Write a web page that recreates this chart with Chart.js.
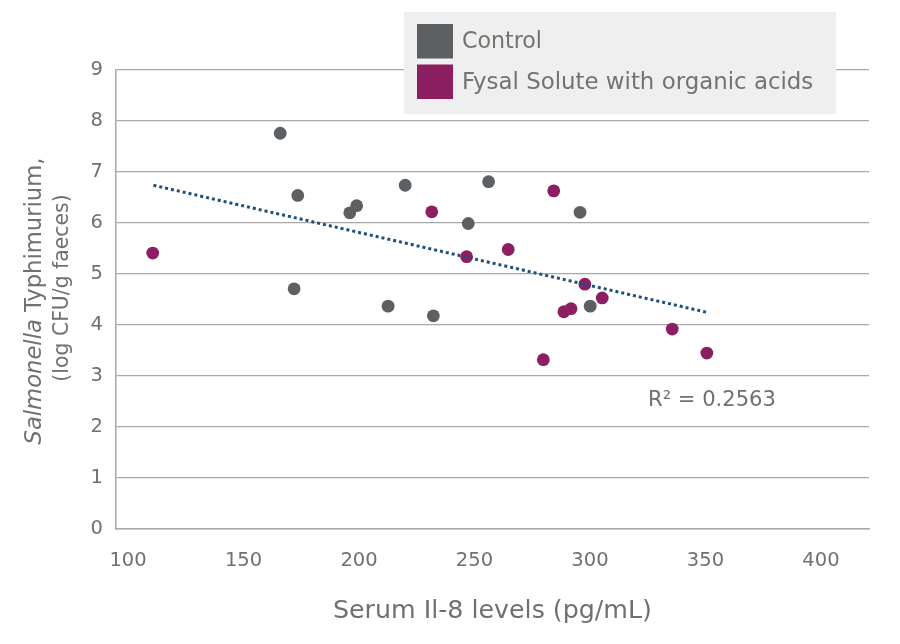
<!DOCTYPE html>
<html><head><meta charset="utf-8">
<script src="https://cdn.jsdelivr.net/npm/chart.js@4.4.1/dist/chart.umd.min.js"></script>
<style>html,body{margin:0;padding:0;background:#fff;}</style>
</head><body>
<canvas id="c" width="900" height="644" style="width:900px;height:644px;display:block"></canvas>
<script>
// ---- data ----
const controlX = [165.9, 173.5, 199.0, 196.0, 220.0, 256.1, 247.3, 295.7, 171.9, 212.6, 232.2, 300.1];
const controlY = [7.76, 6.54, 6.34, 6.20, 6.74, 6.81, 5.99, 6.21, 4.71, 4.37, 4.18, 4.37];
const fysalX = [110.7, 231.5, 284.3, 246.6, 264.6, 297.8, 305.3, 288.7, 291.8, 335.6, 279.8, 350.6];
const fysalY = [5.41, 6.22, 6.63, 5.34, 5.48, 4.80, 4.53, 4.26, 4.32, 3.92, 3.32, 3.45];
const trendX = [111.0, 350.5];
const trendY = [6.74, 4.25];
const xTicks = [100, 150, 200, 250, 300, 350, 400];
const yTicks = [0, 1, 2, 3, 4, 5, 6, 7, 8, 9];
const seriesLabels = ['Control', 'Fysal Solute with organic acids'];
const rSquaredLabel = 'R\u00b2 = 0.2563';
const xTitle = 'Serum Il-8 levels (pg/mL)';
const yTitleItalic = 'Salmonella';
const yTitleRest = ' Typhimurium,';
const yTitle2 = '(log CFU/g faeces)';

const toPts = (xs, ys) => xs.map((x, i) => ({x: x, y: ys[i]}));
const FONT = '"DejaVu Sans", sans-serif';
const GREY = '#5d6063', MAG = '#8c1f61', TXT = '#707070', GRID = '#a8a8a8';

function fit(ctx, text, target, style) {
  ctx.font = style + ' 100px ' + FONT;
  return 100 * target / ctx.measureText(text).width;
}

const overlay = {
  id: 'overlay',
  afterDraw(chart) {
    const ctx = chart.ctx;
    ctx.save();
    // legend box
    ctx.fillStyle = '#eeefee';
    ctx.fillRect(404, 12, 432, 102);
    const sq = [[417, 24], [417, 64.5]];
    const cols = [GREY, MAG];
    const tw = [80, 351.5];
    const ty = [42.5, 83];
    for (let i = 0; i < 2; i++) {
      ctx.fillStyle = cols[i];
      ctx.fillRect(sq[i][0], sq[i][1], 36, 34.5);
      const s = fit(ctx, seriesLabels[i], tw[i], 'normal');
      ctx.font = 'normal ' + s.toFixed(2) + 'px ' + FONT;
      ctx.fillStyle = '#75726e';
      ctx.textBaseline = 'middle';
      ctx.textAlign = 'left';
      ctx.fillText(seriesLabels[i], 462, ty[i]);
    }
    // R squared
    let s = fit(ctx, rSquaredLabel, 128, 'normal');
    ctx.font = 'normal ' + s.toFixed(2) + 'px ' + FONT;
    ctx.fillStyle = TXT;
    ctx.textBaseline = 'middle';
    ctx.fillText(rSquaredLabel, 648, 401);
    // x title
    s = fit(ctx, xTitle, 319, 'normal');
    ctx.font = 'normal ' + s.toFixed(2) + 'px ' + FONT;
    ctx.textAlign = 'left';
    ctx.fillText(xTitle, 333, 611);
    // y title line 1 (mixed italic)
    ctx.save();
    ctx.translate(35, 301);
    ctx.rotate(-Math.PI / 2);
    ctx.font = 'italic 100px ' + FONT;
    const wi = ctx.measureText(yTitleItalic).width;
    ctx.font = 'normal 100px ' + FONT;
    const wr = ctx.measureText(yTitleRest).width;
    const s1 = 100 * 287 / (wi + wr);
    ctx.font = 'italic ' + s1.toFixed(2) + 'px ' + FONT;
    const a = ctx.measureText(yTitleItalic).width;
    ctx.font = 'normal ' + s1.toFixed(2) + 'px ' + FONT;
    const b = ctx.measureText(yTitleRest).width;
    const start = -(a + b) / 2;
    ctx.textAlign = 'left';
    ctx.font = 'italic ' + s1.toFixed(2) + 'px ' + FONT;
    ctx.fillText(yTitleItalic, start, 0);
    ctx.font = 'normal ' + s1.toFixed(2) + 'px ' + FONT;
    ctx.fillText(yTitleRest, start + a, 0);
    ctx.restore();
    // y title line 2
    ctx.save();
    ctx.translate(63, 288);
    ctx.rotate(-Math.PI / 2);
    const s2 = Math.max(fit(ctx, yTitle2, 175, 'normal'), s1 * 0.9);
    ctx.font = 'normal ' + s2.toFixed(2) + 'px ' + FONT;
    ctx.textAlign = 'center';
    ctx.fillText(yTitle2, 0, 0);
    ctx.restore();
    ctx.restore();
  }
};

new Chart(document.getElementById('c'), {
  type: 'scatter',
  data: {
    datasets: [
      {label: 'Trend', data: toPts(trendX, trendY), showLine: true, pointRadius: 0, borderColor: '#1d4f7c',
       borderWidth: 3, borderDash: [3, 3], borderCapStyle: 'butt', fill: false, order: 0},
      {label: seriesLabels[0], data: toPts(controlX, controlY), backgroundColor: GREY, borderColor: GREY,
       pointRadius: 6.4, borderWidth: 0, order: 1},
      {label: seriesLabels[1], data: toPts(fysalX, fysalY), backgroundColor: MAG, borderColor: MAG,
       pointRadius: 6.4, borderWidth: 0, order: 2}
    ]
  },
  options: {
    responsive: false,
    animation: false,
    devicePixelRatio: 1,
    layout: {padding: {left: 0, right: 31, top: 70, bottom: 0}},
    plugins: {legend: {display: false}, tooltip: {enabled: false}},
    scales: {
      x: {
        type: 'linear', min: 94.8, max: 420.8,
        afterBuildTicks: s => { s.ticks = xTicks.map(v => ({value: v})); },
        afterFit: s => { s.height = 115; },
        grid: {display: false},
        border: {display: true, color: GRID, width: 1.5},
        ticks: {padding: 12, color: TXT, font: {family: FONT, size: 19.5}, maxRotation: 0}
      },
      y: {
        type: 'linear', min: 0, max: 9,
        afterBuildTicks: s => { s.ticks = yTicks.map(v => ({value: v})); },
        afterFit: s => { s.width = 116; },
        grid: {color: GRID, lineWidth: 1.3, drawTicks: false},
        border: {display: true, color: GRID, width: 1.5},
        ticks: {padding: 13, color: TXT, font: {family: FONT, size: 19.5}}
      }
    }
  },
  plugins: [overlay]
});
</script>
</body></html>
